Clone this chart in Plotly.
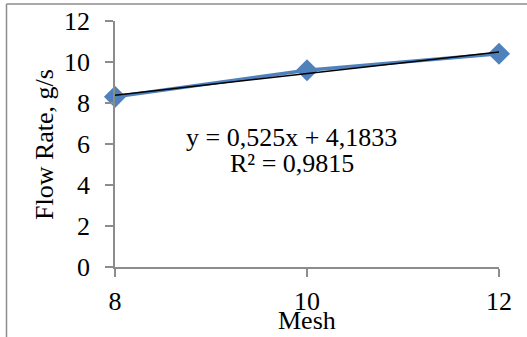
import plotly.graph_objects as go

mesh = [8, 10, 12]
flow = [8.3, 9.6, 10.4]
slope = 0.525
intercept = 4.1833
trend = [slope * m + intercept for m in mesh]
eq_line1 = "y = 0,525x + 4,1833"
eq_line2 = "R² = 0,9815"

FAM = "Liberation Serif, Times New Roman, serif"
FS = 26

def fnt(size=FS):
    return dict(family=FAM, size=size, color="black")

fig = go.Figure()
fig.add_trace(go.Scatter(x=mesh, y=flow, mode="lines+markers",
                         line=dict(color="#4F81BD", width=3.5),
                         marker=dict(symbol="diamond", size=17, color="#4F81BD"),
                         showlegend=False, cliponaxis=False))
fig.add_trace(go.Scatter(x=[mesh[0], mesh[-1]], y=[trend[0], trend[-1]], mode="lines",
                         line=dict(color="black", width=1.5), showlegend=False, cliponaxis=False))

fig.add_annotation(x=9.84, y=6.34, xref="x", yref="y", text=eq_line1, showarrow=False,
                   font=fnt(), xanchor="center", yanchor="middle")
fig.add_annotation(x=9.84, y=5.07, xref="x", yref="y", text=eq_line2, showarrow=False,
                   font=fnt(), xanchor="center", yanchor="middle")

W, H = 527, 337
l, r, t, b = 115, 28, 21, 70
pw, ph = W - l - r, H - t - b

def px(x):
    return (x - l) / pw

def py(y):
    return (H - b - y) / ph

fig.add_shape(type="line", xref="paper", yref="paper", x0=px(6.5), x1=px(530), y0=py(4), y1=py(4),
              line=dict(color="#8c8c8c", width=1.5))
fig.add_shape(type="line", xref="paper", yref="paper", x0=px(6.5), x1=px(6.5), y0=py(4), y1=py(340),
              line=dict(color="#8c8c8c", width=1.5))

fig.add_annotation(x=px(44), y=py(145), xref="paper", yref="paper", text="Flow Rate, g/s",
                   showarrow=False, textangle=-90, font=fnt(), xanchor="center", yanchor="middle")
fig.add_annotation(x=px(307), y=py(320), xref="paper", yref="paper", text="Mesh",
                   showarrow=False, font=fnt(), xanchor="center", yanchor="middle")

fig.update_layout(
    width=W, height=H,
    margin=dict(l=l, r=r, t=t, b=b, autoexpand=False),
    paper_bgcolor="white", plot_bgcolor="white",
    font=fnt(),
    xaxis=dict(range=[8, 12], tickvals=[8, 10, 12], showgrid=False, zeroline=False,
               showline=True, linecolor="#8c8c8c", linewidth=1.5, automargin=False,
               ticks="outside", ticklen=8, tickcolor="#8c8c8c", tickwidth=1.5,
               tickfont=fnt(), ticklabelstandoff=2),
    yaxis=dict(range=[0, 12], tickvals=[0, 2, 4, 6, 8, 10, 12], showgrid=False, zeroline=False,
               showline=True, linecolor="#8c8c8c", linewidth=1.5, automargin=False,
               ticks="outside", ticklen=8, tickcolor="#8c8c8c", tickwidth=1.5,
               tickfont=fnt(), ticklabelstandoff=10),
)

fig.write_html("out.html", config={"displayModeBar": False},
               post_script="document.body.style.margin='0';document.body.style.overflow='hidden';")
